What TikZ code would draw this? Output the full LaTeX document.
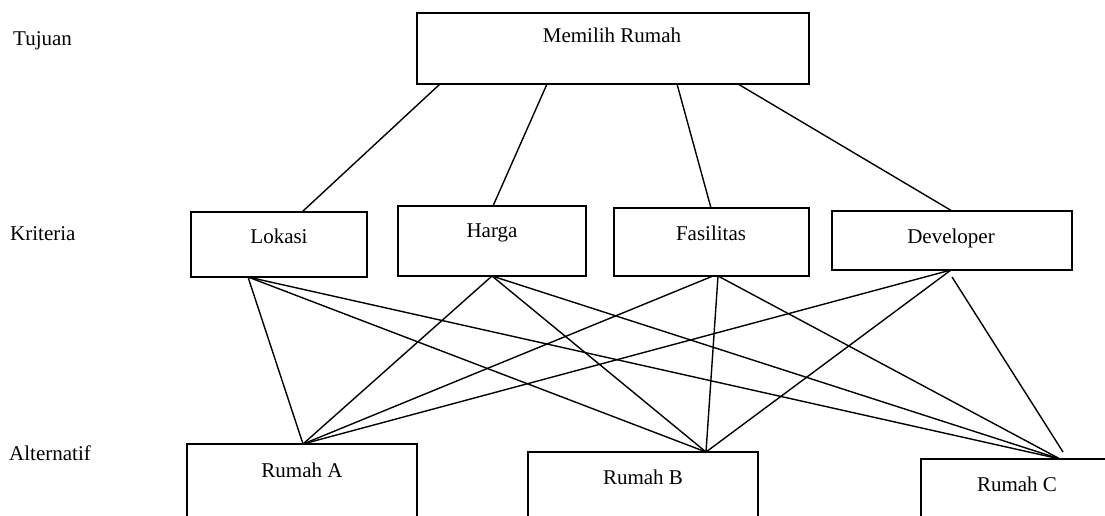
\documentclass[tikz,border=0pt]{standalone}
\usepackage{fontspec}
\setmainfont{Liberation Serif}
\begin{document}
\begin{tikzpicture}[x=1pt,y=-1pt,
  box/.style={draw,line width=1.5pt,rectangle,inner sep=0pt,outer sep=0pt,anchor=north west},
  txt/.style={font=\fontsize{21}{25}\selectfont,inner sep=0pt,anchor=base},
  lvl/.style={font=\fontsize{21}{25}\selectfont,inner sep=0pt,anchor=base west},
  conn/.style={line width=1.4pt}]
\path[use as bounding box] (0,0) rectangle (1105,516);
\clip (0,0) rectangle (1105,516);
% level labels
\node[lvl] (ltuj) at (13,46) {Tujuan};
\node[lvl] (lkri) at (10,240) {Kriteria};
\node[lvl] (lalt) at (9,460) {Alternatif};
% boxes
\node[box,minimum width=392pt,minimum height=71pt] (goal) at (417,13) {};
\node[box,minimum width=176pt,minimum height=65pt] (lok) at (191,212) {};
\node[box,minimum width=188pt,minimum height=70pt] (har) at (398,206) {};
\node[box,minimum width=195pt,minimum height=68pt] (fas) at (614,208) {};
\node[box,minimum width=240pt,minimum height=59pt] (dev) at (832,211) {};
\node[box,minimum width=230pt,minimum height=120pt] (ra) at (187,444) {};
\node[box,minimum width=230pt,minimum height=120pt] (rb) at (528,452) {};
\node[box,minimum width=250pt,minimum height=120pt] (rc) at (921,459) {};
% texts
\node[txt] (tgoal) at (612,43) {Memilih Rumah};
\node[txt] (tlok) at (279,243) {Lokasi};
\node[txt] (thar) at (492,237) {Harga};
\node[txt] (tfas) at (711,240) {Fasilitas};
\node[txt] (tdev) at (951,243) {Developer};
\node[txt] (tra) at (302,477) {Rumah A};
\node[txt] (trb) at (643,484) {Rumah B};
\node[txt] (trc) at (1017,491) {Rumah C};
% goal to criteria
\draw[conn] ([xshift=23pt]goal.south west) -- ([xshift=111pt]lok.north west);
\draw[conn] ([xshift=130pt]goal.south west) -- ([xshift=95pt]har.north west);
\draw[conn] ([xshift=260pt]goal.south west) -- ([xshift=97pt]fas.north west);
\draw[conn] ([xshift=321pt]goal.south west) -- ([xshift=120pt]dev.north west);
% criteria to alternatives
\draw[conn] ([xshift=57pt]lok.south west) -- ([xshift=116pt]ra.north west);
\draw[conn] ([xshift=57pt]lok.south west) -- ([xshift=178pt]rb.north west);
\draw[conn] ([xshift=57pt]lok.south west) -- ([xshift=139pt]rc.north west);
\draw[conn] ([xshift=94pt]har.south west) -- ([xshift=116pt]ra.north west);
\draw[conn] ([xshift=94pt]har.south west) -- ([xshift=178pt]rb.north west);
\draw[conn] ([xshift=94pt]har.south west) -- ([xshift=139pt]rc.north west);
\draw[conn] ([xshift=99pt]fas.south west) -- ([xshift=116pt]ra.north west);
\draw[conn] ([xshift=104pt]fas.south west) -- ([xshift=178pt]rb.north west);
\draw[conn] ([xshift=104pt]fas.south west) -- ([xshift=139pt]rc.north west);
\draw[conn] ([xshift=119pt]dev.south west) -- ([xshift=116pt]ra.north west);
\draw[conn] ([xshift=119pt]dev.south west) -- ([xshift=178pt]rb.north west);
\draw[conn] ([xshift=120pt,yshift=-7pt]dev.south west) -- ([xshift=142pt,yshift=7pt]rc.north west);
\end{tikzpicture}
\end{document}
